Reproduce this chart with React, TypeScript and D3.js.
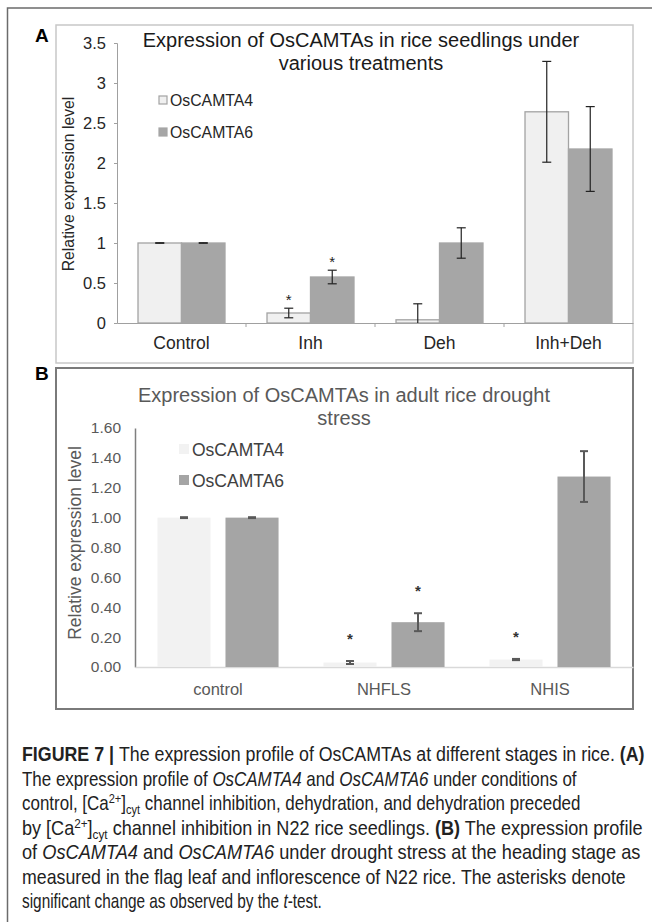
import React, { useEffect, useRef } from 'react';
import * as d3 from 'd3';

// panel A: seedlings
const catsA = ['Control', 'Inh', 'Deh', 'Inh+Deh'];
const a4 = [1, 0.125, 0.04, 2.64];
const a4Err = [0.003, 0.06, 0.2, 0.63];
const a6 = [1, 0.575, 1.0, 2.175];
const a6Err = [0.003, 0.085, 0.19, 0.53];
const a4Sig = [false, true, false, false];
const a6Sig = [false, true, false, false];
const ticksA = [0, 0.5, 1, 1.5, 2, 2.5, 3, 3.5];

// panel B: adult drought
const catsB = ['control', 'NHFLS', 'NHIS'];
const b4 = [1, 0.03, 0.05];
const b4Err = [0.003, 0.01, 0.004];
const b6 = [1, 0.3, 1.275];
const b6Err = [0.003, 0.06, 0.17];
const b4Sig = [false, true, true];
const b6Sig = [false, true, false];
const ticksB = [0, 0.2, 0.4, 0.6, 0.8, 1.0, 1.2, 1.4, 1.6];

const seriesNames = ['OsCAMTA4', 'OsCAMTA6'];

type Seg = { t: string; b?: boolean; i?: boolean; sup?: boolean; sub?: boolean };
const caption: Seg[][] = [
  [{ t: 'FIGURE 7 | ', b: true }, { t: 'The expression profile of OsCAMTAs at different stages in rice. ' }, { t: '(A)', b: true }],
  [{ t: 'The expression profile of ' }, { t: 'OsCAMTA4', i: true }, { t: ' and ' }, { t: 'OsCAMTA6', i: true }, { t: ' under conditions of' }],
  [{ t: 'control, [Ca' }, { t: '2+', sup: true }, { t: ']' }, { t: 'cyt', sub: true }, { t: ' channel inhibition, dehydration, and dehydration preceded' }],
  [{ t: 'by [Ca' }, { t: '2+', sup: true }, { t: ']' }, { t: 'cyt', sub: true }, { t: ' channel inhibition in N22 rice seedlings. ' }, { t: '(B)', b: true }, { t: ' The expression profile' }],
  [{ t: 'of ' }, { t: 'OsCAMTA4', i: true }, { t: ' and ' }, { t: 'OsCAMTA6', i: true }, { t: ' under drought stress at the heading stage as' }],
  [{ t: 'measured in the flag leaf and inflorescence of N22 rice. The asterisks denote' }],
  [{ t: 'significant change as observed by the ' }, { t: 't', i: true }, { t: '-test.' }],
];
// measured line widths in the reference
const captionWidths = [623, 555, 559, 621, 619, 604, 300];

const FONT = 'Arial, "Liberation Sans", sans-serif';

const App = () => {
  const svgRef = useRef<SVGSVGElement>(null);

  useEffect(() => {
    const svg = d3.select(svgRef.current);
    svg.selectAll('*').remove();

    // outer frame (top + left visible)
    svg.append('path')
      .attr('d', 'M7.5,930 V8 H660')
      .attr('fill', 'none')
      .attr('stroke', '#6b6b6b')
      .attr('stroke-width', 1.5);

    // ---------------- panel A ----------------
    svg.append('rect')
      .attr('x', 56).attr('y', 25).attr('width', 577).attr('height', 338)
      .attr('fill', '#fff').attr('stroke', '#c8c8c8').attr('stroke-width', 1.5);
    svg.append('text').text('A')
      .attr('x', 35).attr('y', 42)
      .attr('font-family', FONT).attr('font-weight', 'bold').attr('font-size', 19);

    const yA = d3.scaleLinear().domain([0, 3.5]).range([323, 43]);
    const xA = d3.scaleBand().domain(catsA).range([117, 633]);
    const subA = d3.scaleBand().domain(seriesNames).range([0, xA.bandwidth()]).paddingOuter(0.483);

    const gA = svg.append('g');
    const axA = gA.append('g').attr('transform', 'translate(117,0)')
      .call(d3.axisLeft(yA).tickValues(ticksA).tickSize(3).tickPadding(8).tickFormat((d) => String(d)));
    axA.select('.domain').attr('stroke', '#a0a0a0');
    axA.selectAll('.tick line').attr('stroke', '#a0a0a0');
    axA.selectAll('.tick text').attr('font-family', FONT).attr('font-size', 16.5).attr('fill', '#262626');

    const axAx = gA.append('g').attr('transform', 'translate(0,323)')
      .call(d3.axisBottom(xA).tickSize(0).tickPadding(14));
    axAx.select('.domain').attr('stroke', '#a0a0a0');
    axAx.selectAll('.tick text').attr('font-family', FONT).attr('font-size', 17.5).attr('fill', '#262626');
    // category separators
    gA.selectAll('.sep').data(catsA.slice(1)).enter().append('line')
      .attr('x1', (d) => xA(d)!).attr('x2', (d) => xA(d)!)
      .attr('y1', 323).attr('y2', 327).attr('stroke', '#a0a0a0');

    const seriesA = [
      { name: seriesNames[0], v: a4, e: a4Err, s: a4Sig, fill: '#f0f0f0', stroke: '#a3a3a3' },
      { name: seriesNames[1], v: a6, e: a6Err, s: a6Sig, fill: '#a6a6a6', stroke: '#a6a6a6' },
    ];
    seriesA.forEach((sr) => {
      catsA.forEach((c, i) => {
        const x0 = xA(c)! + subA(sr.name)!;
        const w = subA.bandwidth();
        gA.append('rect')
          .attr('x', x0).attr('y', yA(sr.v[i])).attr('width', w).attr('height', yA(0) - yA(sr.v[i]))
          .attr('fill', sr.fill).attr('stroke', sr.stroke).attr('stroke-width', 1.3);
        const cx = x0 + w / 2;
        const hi = sr.v[i] + sr.e[i];
        const lo = Math.max(0, sr.v[i] - sr.e[i]);
        gA.append('line').attr('x1', cx).attr('x2', cx).attr('y1', yA(hi)).attr('y2', yA(lo))
          .attr('stroke', '#222').attr('stroke-width', 1.2);
        gA.append('line').attr('x1', cx - 4.5).attr('x2', cx + 4.5).attr('y1', yA(hi)).attr('y2', yA(hi))
          .attr('stroke', '#222').attr('stroke-width', 1.2);
        if (lo > 0) {
          gA.append('line').attr('x1', cx - 4.5).attr('x2', cx + 4.5).attr('y1', yA(lo)).attr('y2', yA(lo))
            .attr('stroke', '#222').attr('stroke-width', 1.2);
        }
        if (sr.s[i]) {
          gA.append('text').text('*')
            .attr('x', cx).attr('y', yA(hi) - 3).attr('text-anchor', 'middle')
            .attr('font-family', FONT).attr('font-size', 15).attr('fill', '#222');
        }
      });
    });

    // title A
    const tA = gA.append('text').attr('text-anchor', 'middle')
      .attr('font-family', FONT).attr('font-size', 20).attr('fill', '#1a1a1a');
    tA.append('tspan').attr('x', 361).attr('y', 47).text('Expression of OsCAMTAs in rice seedlings under');
    tA.append('tspan').attr('x', 361).attr('y', 70).text('various treatments');

    // legend A
    seriesA.forEach((sr, k) => {
      const ly = 100 + k * 32;
      gA.append('rect').attr('x', 159).attr('y', ly - 4).attr('width', 8).attr('height', 8)
        .attr('fill', sr.fill).attr('stroke', sr.stroke).attr('stroke-width', 1.2);
      gA.append('text').text(sr.name).attr('x', 170).attr('y', ly + 5.5)
        .attr('font-family', FONT).attr('font-size', 15.8).attr('fill', '#262626');
    });

    gA.append('text').text('Relative expression level')
      .attr('transform', 'translate(74,184) rotate(-90)').attr('text-anchor', 'middle')
      .attr('font-family', FONT).attr('font-size', 15.8).attr('fill', '#262626');

    // ---------------- panel B ----------------
    svg.append('rect')
      .attr('x', 56).attr('y', 368).attr('width', 577).attr('height', 341)
      .attr('fill', '#fff').attr('stroke', '#7a7a7a').attr('stroke-width', 2);
    svg.append('text').text('B')
      .attr('x', 35).attr('y', 380)
      .attr('font-family', FONT).attr('font-weight', 'bold').attr('font-size', 19);

    const yB = d3.scaleLinear().domain([0, 1.6]).range([667, 428]);
    const xB = d3.scaleBand().domain(catsB).range([135, 633]);
    const subB = d3.scaleBand().domain(seriesNames).range([0, xB.bandwidth()]).paddingInner(0.22).paddingOuter(0.33);

    const gB = svg.append('g');
    const axB = gB.append('g').attr('transform', 'translate(135,0)')
      .call(d3.axisLeft(yB).tickValues(ticksB).tickSize(0).tickPadding(14).tickFormat(d3.format('.2f')));
    axB.select('.domain').attr('stroke', '#7f7f7f').attr('stroke-width', 1.5);
    axB.selectAll('.tick text').attr('font-family', FONT).attr('font-size', 15.5).attr('fill', '#595959');

    const axBx = gB.append('g').attr('transform', 'translate(0,667)')
      .call(d3.axisBottom(xB).tickSize(0).tickPadding(16));
    axBx.select('.domain').attr('stroke', '#d9d9d9').attr('stroke-width', 1.5);
    axBx.selectAll('.tick text').attr('font-family', FONT).attr('font-size', 16.5).attr('fill', '#595959');

    const seriesB = [
      { name: seriesNames[0], v: b4, e: b4Err, s: b4Sig, fill: '#f2f2f2' },
      { name: seriesNames[1], v: b6, e: b6Err, s: b6Sig, fill: '#a5a5a5' },
    ];
    seriesB.forEach((sr) => {
      catsB.forEach((c, i) => {
        const x0 = xB(c)! + subB(sr.name)!;
        const w = subB.bandwidth();
        gB.append('rect')
          .attr('x', x0).attr('y', yB(sr.v[i])).attr('width', w).attr('height', yB(0) - yB(sr.v[i]))
          .attr('fill', sr.fill);
        const cx = x0 + w / 2;
        const hi = sr.v[i] + sr.e[i];
        const lo = Math.max(0, sr.v[i] - sr.e[i]);
        gB.append('line').attr('x1', cx).attr('x2', cx).attr('y1', yB(hi)).attr('y2', yB(lo))
          .attr('stroke', '#595959').attr('stroke-width', 2);
        [hi, lo].forEach((v) => {
          gB.append('line').attr('x1', cx - 4).attr('x2', cx + 4).attr('y1', yB(v)).attr('y2', yB(v))
            .attr('stroke', '#595959').attr('stroke-width', 2);
        });
        if (sr.s[i]) {
          gB.append('text').text('*')
            .attr('x', cx).attr('y', yB(hi) - 17).attr('text-anchor', 'middle')
            .attr('font-family', FONT).attr('font-weight', 'bold').attr('font-size', 15).attr('fill', '#333');
        }
      });
    });

    const tB = gB.append('text').attr('text-anchor', 'middle')
      .attr('font-family', FONT).attr('font-size', 20).attr('fill', '#595959');
    tB.append('tspan').attr('x', 344).attr('y', 402).text('Expression of OsCAMTAs in adult rice drought');
    tB.append('tspan').attr('x', 344).attr('y', 425).text('stress');

    seriesB.forEach((sr, k) => {
      const ly = 449 + k * 31;
      gB.append('rect').attr('x', 179).attr('y', ly - 5).attr('width', 10).attr('height', 10)
        .attr('fill', sr.fill);
      gB.append('text').text(sr.name).attr('x', 192).attr('y', ly + 6.5)
        .attr('font-family', FONT).attr('font-size', 17.5).attr('fill', '#404040');
    });

    gB.append('text').text('Relative expression level')
      .attr('transform', 'translate(81,543) rotate(-90)').attr('text-anchor', 'middle')
      .attr('font-family', FONT).attr('font-size', 17.5).attr('fill', '#595959');

    // ---------------- caption ----------------
    // condensed look: measure each line and squeeze it horizontally to the reference width
    caption.forEach((line, li) => {
      const y = 761 + li * 24.5;
      const t = svg.append('text')
        .attr('x', 0).attr('y', 0)
        .attr('font-family', FONT).attr('font-size', 20).attr('fill', '#222');
      let shift = 0;
      line.forEach((s) => {
        const target = s.sup ? -7 : s.sub ? 4 : 0;
        const ts = t.append('tspan').text(s.t).attr('dy', target - shift);
        shift = target;
        if (s.b) ts.attr('font-weight', 'bold');
        if (s.i) ts.attr('font-style', 'italic');
        if (s.sup || s.sub) ts.attr('font-size', 13);
      });
      const natural = (t.node() as SVGTextElement).getComputedTextLength() || captionWidths[li];
      const k = captionWidths[li] / natural;
      t.attr('transform', `translate(22,${y}) scale(${k},1)`);
    });
  }, []);

  return (
    <svg
      ref={svgRef}
      width={652}
      height={922}
      style={{ position: 'absolute', left: 0, top: 0, background: '#fff' }}
    ></svg>
  );
};

export default App;
